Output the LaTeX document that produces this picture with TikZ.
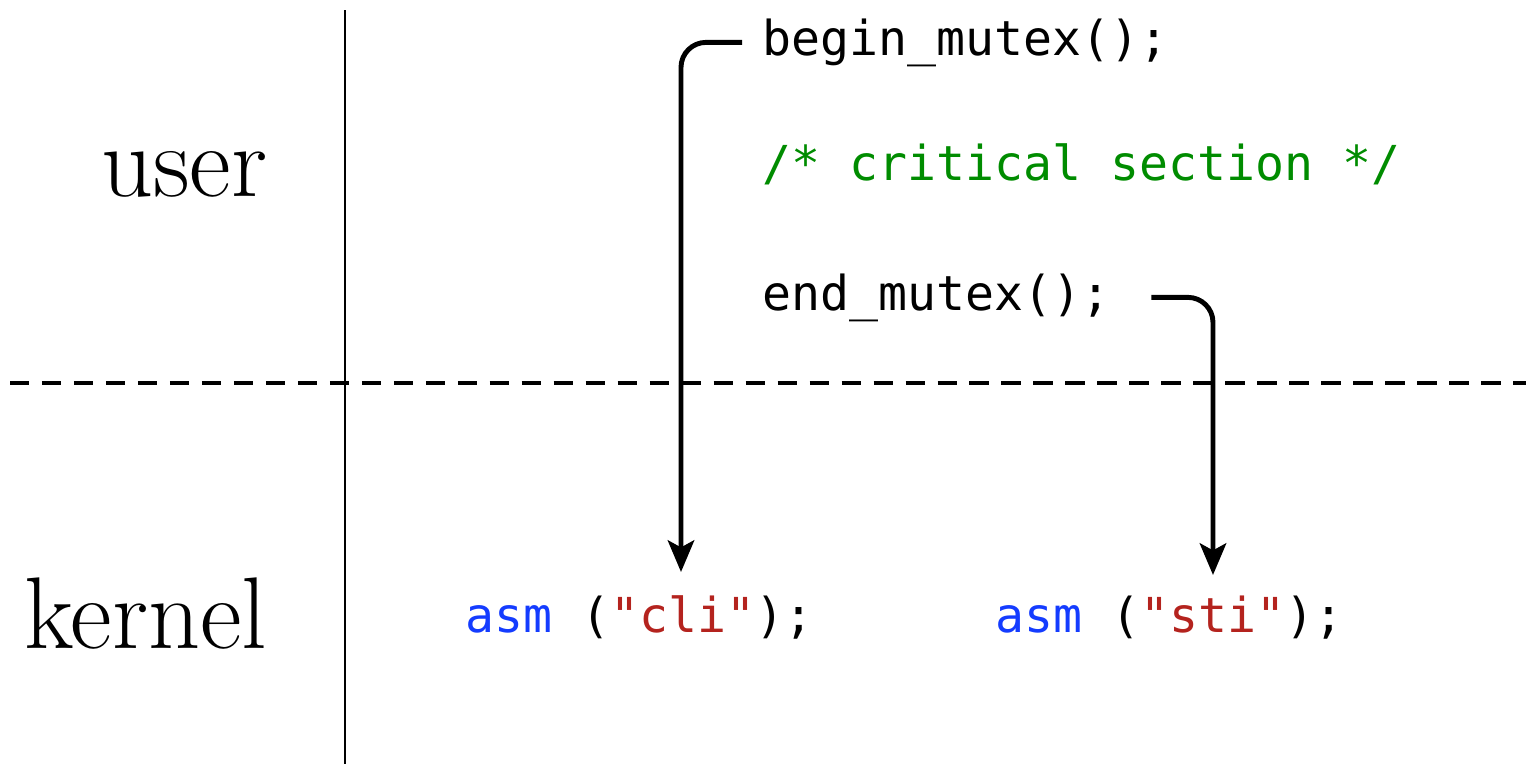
\documentclass[tikz,border=0pt]{standalone}
\usepackage{fontspec}
\setmonofont{DejaVu Sans Mono}
\usepackage{xcolor}
\usetikzlibrary{positioning,arrows.meta}
\definecolor{kwblue}{RGB}{20,60,255}
\definecolor{strred}{RGB}{180,35,30}
\definecolor{cmtgreen}{RGB}{0,140,0}

\begin{document}
\begin{tikzpicture}[
  code/.style={font=\fontsize{13.7}{16}\selectfont\ttfamily, inner sep=0pt, anchor=base west},
  ring/.style={font=\fontsize{29}{34}\selectfont, inner sep=0pt, anchor=base east},
  arr/.style={-{Stealth[length=9pt,width=7.5pt,inset=2pt]}, line width=1.4pt, rounded corners=2.5mm},
  split/.style={line width=1.3pt, dash pattern=on 5.5pt off 3.6pt}
]
\useasboundingbox (0,0) rectangle (15.26,7.64);
% user / kernel split
\draw[line width=0.6pt] (3.45,7.54) -- (3.45,0);
\draw[split] (0.1,3.81) -- (15.26,3.81);
\node[ring] (user) at (2.68,5.68) {user};
\node[ring] (kernel) at (2.68,1.16) {kernel};
% user code
\node[code] (bm) at (7.62,7.09) {begin\_mutex();};
\node[code, text=cmtgreen] (cmt) at (7.62,5.84) {/* critical section */};
\node[code] (em) at (7.62,4.54) {end\_mutex();};
% kernel code
\node[code] (cli) at (4.65,1.32) {\textcolor{kwblue}{asm} (\textcolor{strred}{"cli"});};
\node[code] (sti) at (9.95,1.32) {\textcolor{kwblue}{asm} (\textcolor{strred}{"sti"});};
\coordinate (cliin) at (6.81,1.92);
\coordinate (stiin) at (12.13,1.89);
\draw[arr] ([xshift=-2mm]bm.west) -| (cliin);
\draw[arr] ([xshift=4mm]em.east) -| (stiin);
\end{tikzpicture}
\end{document}
